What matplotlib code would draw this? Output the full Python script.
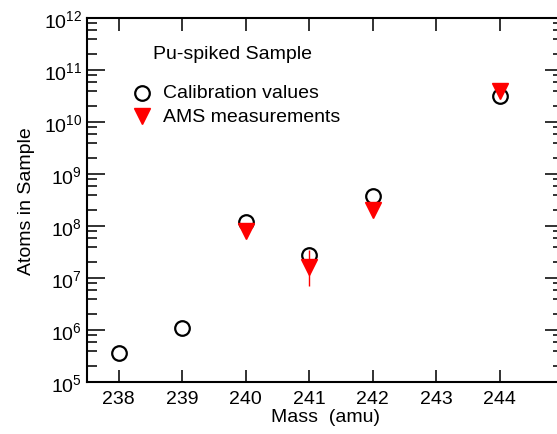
"""Pu-spiked sample: calibration values vs AMS measurements per mass."""

import numpy as np
import matplotlib.pyplot as plt
from matplotlib.ticker import LogLocator, NullFormatter

plt.rcParams['font.family'] = ['Liberation Sans', 'DejaVu Sans']
plt.rcParams['mathtext.fontset'] = 'custom'
plt.rcParams['mathtext.rm'] = 'Liberation Sans'

# ============================================================
# Data
# ============================================================
calib_mass = [238, 239, 240, 241, 242, 244]
calib_atoms = [3.6e5, 1.07e6, 1.17e8, 2.8e7, 3.8e8, 3.2e10]

ams_mass = [240, 241, 242, 244]
ams_atoms = [8.0e7, 1.6e7, 2.0e8, 4.0e10]
ams_err_lo = [0, 0.9e7, 0, 0]
ams_err_hi = [0, 1.9e7, 0, 0]

# ============================================================
# Plot
# ============================================================
fig = plt.figure(figsize=(5.57, 4.35), dpi=100)
W, H = 557, 435
ax = fig.add_axes([87 / W, 1 - 383 / H, (563 - 87) / W, (383 - 19) / H])

ax.errorbar(ams_mass, ams_atoms, yerr=[ams_err_lo, ams_err_hi], fmt='none',
            ecolor='red', elinewidth=1, capsize=0, zorder=2)
ax.plot(calib_mass, calib_atoms, 'o', ms=10.5, mfc='none', mec='black',
        mew=1.6, ls='none', zorder=3)
ax.plot(ams_mass, ams_atoms, 'v', ms=12, color='red', mec='red',
        ls='none', zorder=4)

ax.set_yscale('log')
ax.set_ylim(1e5, 1e12)
ax.set_xlim(237.5, 245)
ax.set_xticks(np.arange(238, 245))
ax.yaxis.set_major_locator(LogLocator(base=10, numticks=20))
ax.yaxis.set_minor_locator(LogLocator(base=10, subs=[2, 4, 6, 8], numticks=20))
ax.yaxis.set_minor_formatter(NullFormatter())

ax.tick_params(which='both', direction='in', top=True, right=True,
               labelsize=14, width=1.3, color='#222222')
ax.tick_params(axis='y', which='major', length=13)
ax.tick_params(axis='y', which='minor', length=7)
ax.tick_params(axis='x', which='major', length=9, pad=6)
for s in ax.spines.values():
    s.set_linewidth(1.5)

ax.set_xlabel('Mass  (amu)', fontsize=14, labelpad=0.5)
ax.set_ylabel('Atoms in Sample', fontsize=14, labelpad=6)

# legend built by hand like the original annotation
ax.text(0.139, 0.903, 'Pu-spiked Sample', transform=ax.transAxes,
        fontsize=14, va='center', ha='left')
ax.plot([0.115], [0.794], 'o', ms=10.5, mfc='none', mec='black', mew=1.6,
        transform=ax.transAxes, clip_on=False)
ax.text(0.16, 0.794, 'Calibration values', transform=ax.transAxes,
        fontsize=14, va='center', ha='left')
ax.plot([0.115], [0.73], 'v', ms=12, color='red', transform=ax.transAxes,
        clip_on=False)
ax.text(0.16, 0.73, 'AMS measurements', transform=ax.transAxes,
        fontsize=14, va='center', ha='left')

plt.savefig('out.png', dpi=100)
